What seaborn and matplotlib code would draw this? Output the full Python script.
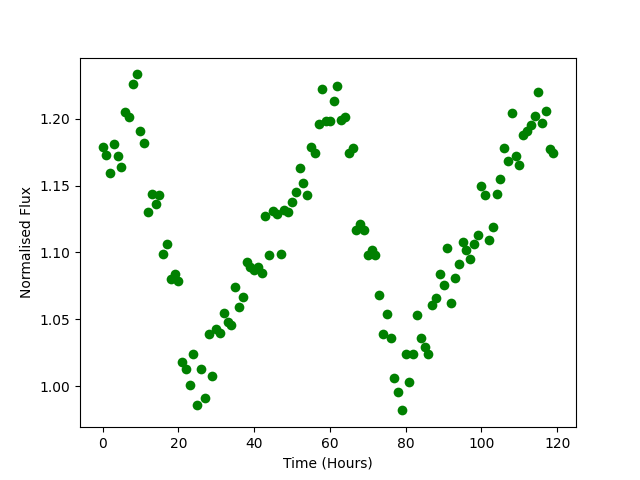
import numpy as np
import matplotlib
matplotlib.use("Agg")
import matplotlib.pyplot as plt
import seaborn as sns

# Hourly samples of normalised flux
hours = np.arange(120)
flux = [
    1.179, 1.173, 1.159, 1.181, 1.172, 1.164, 1.205, 1.201, 1.226, 1.233,
    1.191, 1.182, 1.130, 1.144, 1.136, 1.143, 1.099, 1.106, 1.080, 1.084,
    1.079, 1.018, 1.013, 1.001, 1.024, 0.986, 1.013, 0.991, 1.039, 1.008,
    1.043, 1.040, 1.055, 1.048, 1.046, 1.074, 1.059, 1.067, 1.093, 1.089,
    1.087, 1.089, 1.085, 1.127, 1.098, 1.131, 1.129, 1.099, 1.132, 1.130,
    1.138, 1.145, 1.163, 1.152, 1.143, 1.179, 1.174, 1.196, 1.222, 1.198,
    1.198, 1.213, 1.224, 1.199, 1.201, 1.174, 1.178, 1.117, 1.121, 1.117,
    1.098, 1.102, 1.098, 1.068, 1.039, 1.054, 1.036, 1.006, 0.996, 0.982,
    1.024, 1.003, 1.024, 1.053, 1.036, 1.029, 1.024, 1.061, 1.066, 1.084,
    1.076, 1.103, 1.062, 1.081, 1.091, 1.108, 1.102, 1.095, 1.106, 1.113,
    1.150, 1.143, 1.109, 1.119, 1.144, 1.155, 1.178, 1.168, 1.204, 1.172,
    1.165, 1.188, 1.191, 1.195, 1.202, 1.220, 1.197, 1.206, 1.177, 1.174,
]

fig, ax = plt.subplots(figsize=(6.4, 4.8), dpi=100)
sns.scatterplot(x=hours, y=flux, color="green", s=49, linewidth=0, ax=ax)
ax.set_xlabel("Time (Hours)")
ax.set_ylabel("Normalised Flux")
fig.savefig("out.png")
